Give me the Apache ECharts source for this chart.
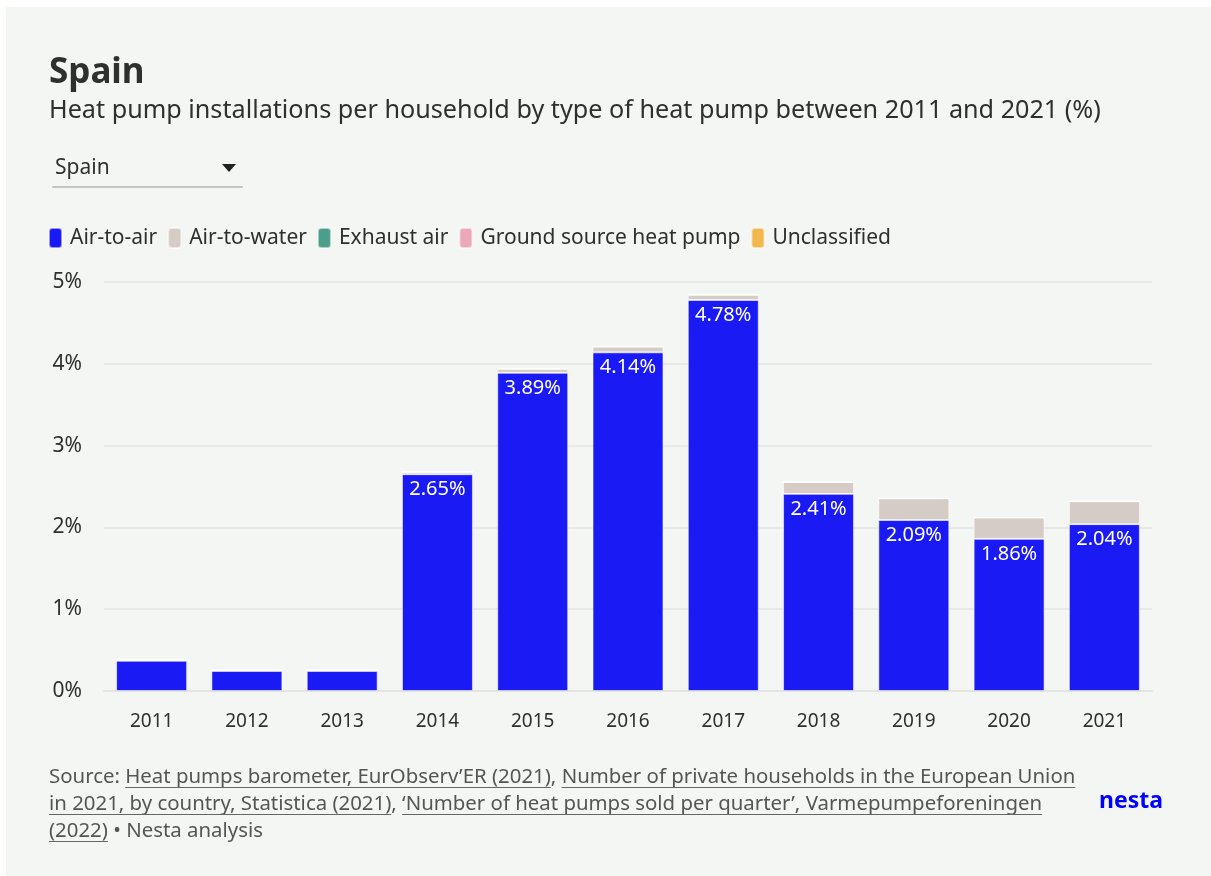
<!DOCTYPE html>
<html>
<head>
<meta charset="utf-8">
<title>Spain – heat pump installations per household</title>
<script src="https://cdn.jsdelivr.net/npm/echarts@6/dist/echarts.min.js"></script>
<style>
  html, body { margin: 0; padding: 0; background: #ffffff; }
  #card { position: absolute; left: 6px; top: 7px; width: 1205px; height: 869px; background: #f4f6f3; }
  #chart { position: absolute; left: 0; top: 0; width: 1211px; height: 876px; }
</style>
</head>
<body>
<div id="card"></div>
<div id="chart"></div>
<script>
// Years shown on the x axis
const years = ['2011', '2012', '2013', '2014', '2015', '2016', '2017', '2018', '2019', '2020', '2021'];

// Installations per household (%), by heat pump type
const airToAir     = [0.37, 0.245, 0.245, 2.65, 3.89, 4.14, 4.78, 2.41, 2.09, 1.86, 2.04];
const airToWater   = [0.01, 0.015, 0.015, 0.03, 0.05, 0.07, 0.065, 0.145, 0.265, 0.26, 0.28];
const exhaustAir   = [0, 0, 0, 0, 0, 0, 0, 0, 0, 0, 0];
const groundSource = [0, 0, 0, 0, 0, 0, 0, 0, 0, 0, 0];
const unclassified = [0, 0, 0, 0, 0, 0, 0, 0, 0, 0, 0];

const seriesNames = ['Air-to-air', 'Air-to-water', 'Exhaust air', 'Ground source heat pump', 'Unclassified'];
const seriesColors = ['#1a1af5', '#d5ccc6', '#4a9e8a', '#eba9b7', '#f2b84f'];

// y-axis ticks
const yTicks = [0, 1, 2, 3, 4, 5];

const FONT = '"Noto Sans", sans-serif';
const TEXT = '#2f2f2f';

// Source note, split into plain and linked (underlined) runs
const sourceLines = [
  [['Source: ', false], ['Heat pumps barometer, EurObserv\u2019ER (2021)', true], [', ', false],
   ['Number of private households in the European Union', true]],
  [['in 2021, by country, Statistica (2021)', true], [', ', false],
   ['\u2018Number of heat pumps sold per quarter\u2019, Varmepumpeforeningen', true]],
  [['(2022)', true], [' \u2022 Nesta analysis', false]]
];

const chart = echarts.init(document.getElementById('chart'), null, { renderer: 'canvas' });

// measure run widths so the underlines sit under the linked text
const measureCtx = document.createElement('canvas').getContext('2d');
const SRC_SIZE = 20.4;
measureCtx.font = SRC_SIZE + 'px ' + FONT;

const midText = (x, y, text, font, fill) => ({
  type: 'text', x: x, y: y,
  style: { text: text, font: font, fill: fill, verticalAlign: 'middle' }
});

const graphics = [];
graphics.push(midText(49, 73, 'Spain', 'bold 35px ' + FONT, TEXT));
graphics.push(midText(49, 111, 'Heat pump installations per household by type of heat pump between 2011 and 2021 (%)', '25.2px ' + FONT, TEXT));

// country selector
graphics.push(midText(55, 168, 'Spain', '21px ' + FONT, TEXT));
graphics.push({ type: 'polygon', shape: { points: [[222, 164], [236, 164], [229, 172]] }, style: { fill: '#222' } });
graphics.push({ type: 'rect', shape: { x: 52, y: 186, width: 191, height: 2, r: 1 }, style: { fill: '#c4c4c2' } });

// source note
const lineY = [777, 804, 831];
sourceLines.forEach((runs, i) => {
  let x = 49;
  runs.forEach(([txt, link]) => {
    const w = measureCtx.measureText(txt).width;
    graphics.push(midText(x, lineY[i], txt, SRC_SIZE + 'px ' + FONT, '#555'));
    if (link) {
      graphics.push({ type: 'rect', shape: { x: x, y: lineY[i] + 10, width: w, height: 1 }, style: { fill: '#666' } });
    }
    x += w;
  });
});

// logo wordmark
graphics.push(midText(1099, 801, 'nesta', 'bold 23px ' + FONT, '#0000ff'));

const series = [airToAir, airToWater, exhaustAir, groundSource, unclassified].map((vals, i) => ({
  name: seriesNames[i],
  type: 'bar',
  stack: 'total',
  data: vals,
  barCategoryGap: '25.5%',
  itemStyle: { color: seriesColors[i], borderColor: 'rgba(255,255,255,0.55)', borderWidth: 1 },
  label: i === 0 ? {
    show: true,
    position: 'insideTop',
    distance: 5,
    fontFamily: FONT,
    fontSize: 20,
    color: '#fff',
    textBorderColor: '#1a1af5',
    textBorderWidth: 3,
    formatter: p => (p.value >= 1 ? p.value.toFixed(2) + '%' : '')
  } : { show: false },
  emphasis: { disabled: true }
}));

chart.setOption({
  backgroundColor: 'transparent',
  animation: false,
  textStyle: { fontFamily: FONT },
  legend: {
    left: 43,
    top: 222,
    icon: 'roundRect',
    itemWidth: 13,
    itemHeight: 20,
    itemGap: 10,
    selectedMode: false,
    textStyle: { fontSize: 21, color: TEXT, padding: [0, 0, 0, 3] },
    data: seriesNames
  },
  grid: { left: 104, right: 59, top: 282, bottom: 185 },
  xAxis: {
    type: 'category',
    data: years,
    axisTick: { show: false },
    axisLine: { lineStyle: { color: '#e4e5e2', width: 2 } },
    axisLabel: { fontSize: 19, color: TEXT, margin: 21 }
  },
  yAxis: {
    type: 'value',
    min: yTicks[0],
    max: yTicks[yTicks.length - 1],
    interval: 1,
    axisLabel: { fontSize: 21, color: TEXT, margin: 22, formatter: v => v + '%' },
    splitLine: { lineStyle: { color: '#e8e9e6', width: 2 } }
  },
  series: series,
  graphic: graphics
});
</script>
</body>
</html>
